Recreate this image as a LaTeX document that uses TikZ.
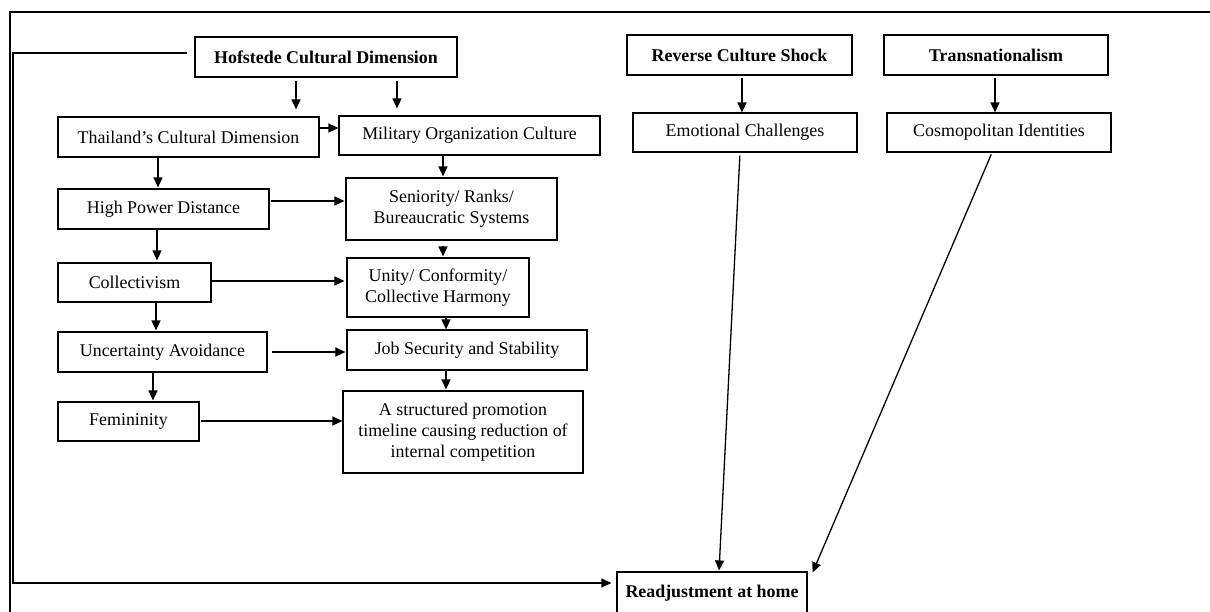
\documentclass[tikz,border=0pt]{standalone}
\usepackage{fontspec}
\setmainfont{Liberation Serif}
\usetikzlibrary{arrows.meta}
\begin{document}
\begin{tikzpicture}[x=1pt,y=1pt,
  box/.style={draw, line width=1.2pt, inner sep=0pt, align=center, font=\fontsize{17.9}{21}\selectfont},
  bbox/.style={box, font=\fontsize{17.9}{21}\selectfont\bfseries},
  arr/.style={line width=1.3pt, -{Triangle[length=10pt,width=9pt]}},
  frame/.style={line width=1.8pt}]
\useasboundingbox (0,0) rectangle (1210,-611);
\clip (0,0) rectangle (1210,-611);
% outer frame
\draw[frame] (10,-615) -- (10,-12) -- (1215,-12);
% nodes
\node[bbox, minimum width=262, minimum height=40] (hof) at (326,-57) {Hofstede Cultural Dimension};
\node[bbox, minimum width=225, minimum height=40] (rcs) at (739.5,-55) {Reverse Culture Shock};
\node[bbox, minimum width=224, minimum height=40] (trn) at (996,-55) {Transnationalism};
\node[box, minimum width=261, minimum height=40] (thai) at (188.5,-137) {Thailand’s Cultural Dimension};
\node[box, minimum width=261, minimum height=39] (mil) at (469.5,-135.5) {Military Organization Culture};
\node[box, minimum width=224, minimum height=39] (emo) at (745,-132.5) {Emotional Challenges};
\node[box, minimum width=224, minimum height=39] (cos) at (999,-132.5) {Cosmopolitan Identities};
\node[box, minimum width=211, minimum height=40] (hpd) at (163.5,-209) {High Power Distance};
\node[box, minimum width=211, minimum height=62] (sen) at (451.5,-209) {Seniority/ Ranks/\\Bureaucratic Systems};
\node[box, minimum width=153, minimum height=39] (col) at (134.5,-282.5) {Collectivism};
\node[box, minimum width=182, minimum height=59] (uni) at (438,-287.5) {Unity/ Conformity/\\Collective Harmony};
\node[box, minimum width=209, minimum height=40] (ua) at (162.5,-352) {Uncertainty Avoidance};
\node[box, minimum width=240, minimum height=40] (job) at (467,-350) {Job Security and Stability};
\node[box, minimum width=141, minimum height=39] (fem) at (128.5,-421.5) {Femininity};
\node[box, minimum width=240, minimum height=82] (str) at (463,-432) {A structured promotion\\timeline causing reduction of\\internal competition};
\node[bbox, minimum width=190, minimum height=42] (rea) at (712,-593) {Readjustment at home};
% connectors
\draw[arr, shorten <=3pt, shorten >=7pt] (296,0 |- hof.south) -- (296,0 |- thai.north);
\draw[arr, shorten <=3pt, shorten >=7pt] (397,0 |- hof.south) -- (397,0 |- mil.north);
\draw[arr] (thai.east |- 0,-128) -- (mil.west |- 0,-128);
\draw[arr, shorten >=1pt] (443,0 |- mil.south) -- (443,0 |- sen.north);
\draw[arr, shorten >=1pt] (158,0 |- thai.south) -- (158,0 |- hpd.north);
\draw[arr, shorten <=1pt, shorten >=1pt] (hpd.east |- 0,-201) -- (sen.west |- 0,-201);
\draw[arr, shorten <=5pt, shorten >=1pt] (443,0 |- sen.south) -- (443,0 |- uni.north);
\draw[arr, shorten >=2pt] (157,0 |- hpd.south) -- (157,0 |- col.north);
\draw[arr, shorten >=2pt] (col.east |- 0,-281) -- (uni.west |- 0,-281);
\draw[arr, shorten >=1pt] (156,0 |- col.south) -- (156,0 |- ua.north);
\draw[arr] (446,0 |- uni.south) -- (446,0 |- job.north);
\draw[arr, shorten <=4pt, shorten >=1pt] (ua.east |- 0,-352) -- (job.west |- 0,-352);
\draw[arr, shorten >=1pt] (153,0 |- ua.south) -- (153,0 |- fem.north);
\draw[arr, shorten >=1pt] (446,0 |- job.south) -- (446,0 |- str.north);
\draw[arr, shorten <=1pt] (fem.east |- 0,-421) -- (str.west |- 0,-421);
\draw[arr, shorten <=2pt] (742,0 |- rcs.south) -- (742,0 |- emo.north);
\draw[arr, shorten <=2pt] (995,0 |- trn.south) -- (995,0 |- cos.north);
\draw[arr, shorten <=3pt, shorten >=1pt] (740,0 |- emo.south) -- (719,0 |- rea.north);
\draw[arr, shorten <=2pt] (992,0 |- cos.south) -- ([xshift=5pt,yshift=-1pt]rea.north east);
\draw[arr, shorten <=7pt, shorten >=5pt] (hof.west |- 0,-53) -- (13,-53) -- (13,-583) -- (rea.west |- 0,-583);
\end{tikzpicture}
\end{document}
